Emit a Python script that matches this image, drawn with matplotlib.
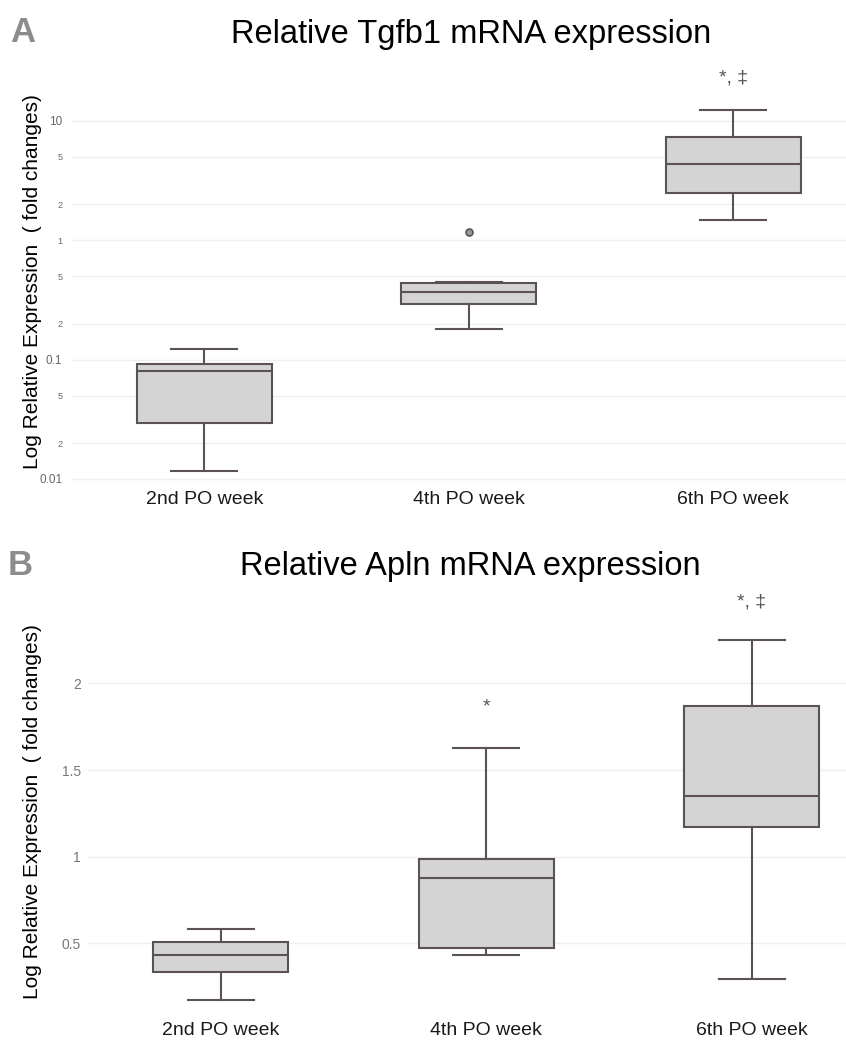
import matplotlib
matplotlib.use('Agg')
import matplotlib.pyplot as plt
from matplotlib.ticker import NullLocator
from matplotlib.transforms import ScaledTranslation

plt.rcParams['font.family'] = ['Liberation Sans', 'DejaVu Sans']

weeks = ['2nd PO week', '4th PO week', '6th PO week']

# panel A - Tgfb1, log scale
tgfb1_whislo = [0.0117, 0.180, 1.48]
tgfb1_q1 = [0.0296, 0.294, 2.48]
tgfb1_med = [0.0803, 0.369, 4.33]
tgfb1_q3 = [0.0914, 0.436, 7.38]
tgfb1_whishi = [0.122, 0.443, 12.3]
tgfb1_fliers = [[], [1.167], []]
tgfb1_marks = ['', '', '*, ‡']
tgfb1_mark_y = [None, None, 22.9]
tgfb1_ticks = [0.01, 0.02, 0.05, 0.1, 0.2, 0.5, 1, 2, 5, 10]
tgfb1_ticklabels = ['0.01', '2', '5', '0.1', '2', '5', '1', '2', '5', '10']

# panel B - Apln
apln_whislo = [0.174, 0.435, 0.295]
apln_q1 = [0.333, 0.473, 1.170]
apln_med = [0.433, 0.879, 1.350]
apln_q3 = [0.510, 0.985, 1.871]
apln_whishi = [0.585, 1.629, 2.250]
apln_fliers = [[], [], []]
apln_marks = ['', '*', '*, ‡']
apln_mark_y = [None, 1.865, 2.47]
apln_ticks = [0.5, 1, 1.5, 2]
apln_ticklabels = ['0.5', '1', '1.5', '2']

W, H = 846, 1042
fig = plt.figure(figsize=(W / 100, H / 100), dpi=100)
edge = '#5b5353'


def px_axes(left, top, right, bottom):
    return fig.add_axes([left / W, 1 - bottom / H, (right - left) / W, (bottom - top) / H])


def draw_boxes(ax, lo, q1, med, q3, hi, fliers):
    stats = []
    for i in range(len(weeks)):
        stats.append(dict(whislo=lo[i], q1=q1[i], med=med[i], q3=q3[i],
                          whishi=hi[i], fliers=fliers[i]))
    ax.bxp(stats, positions=range(len(weeks)), widths=0.51, capwidths=0.25,
           patch_artist=True, showfliers=True,
           boxprops=dict(facecolor='#d4d4d4', edgecolor=edge, linewidth=1.5),
           medianprops=dict(color=edge, linewidth=1.5),
           whiskerprops=dict(color=edge, linewidth=1.5),
           capprops=dict(color=edge, linewidth=1.5),
           flierprops=dict(marker='o', markersize=5, markerfacecolor='#9a9a9a',
                           markeredgecolor=edge, markeredgewidth=1.2))


def style(ax):
    for s in ax.spines.values():
        s.set_visible(False)
    ax.grid(axis='y', color='#efefef', lw=1)
    ax.set_axisbelow(True)
    ax.tick_params(length=0)
    ax.set_xticks(range(len(weeks)))
    ax.set_xticklabels(weeks, fontsize=14, color='#1a1a1a')
    # category labels sit a little right of the box centres
    shift = ScaledTranslation(7 / 100, 0, fig.dpi_scale_trans)
    for lab in ax.get_xticklabels():
        lab.set_transform(lab.get_transform() + shift)


# ---- A ----
axA = px_axes(72, 62, 846, 488)
draw_boxes(axA, tgfb1_whislo, tgfb1_q1, tgfb1_med, tgfb1_q3, tgfb1_whishi, tgfb1_fliers)
axA.set_yscale('log')
axA.set_xlim(-0.5, -0.5 + (846 - 72) / 264.5)
axA.set_ylim(10 ** ((240.3 - 488) / 119.33), 10 ** ((240.3 - 62) / 119.33))
style(axA)
axA.set_yticks(tgfb1_ticks)
axA.yaxis.set_minor_locator(NullLocator())
axA.set_yticklabels(tgfb1_ticklabels, color='#666666')
for lab in axA.get_yticklabels():
    lab.set_fontsize(8.5 if lab.get_text() in ('0.01', '0.1', '10') else 6.5)
axA.tick_params(axis='y', pad=7)
axA.tick_params(axis='x', pad=2)
for i, m in enumerate(tgfb1_marks):
    if m:
        axA.text(i, tgfb1_mark_y[i], m, ha='center', va='center', fontsize=14, color='#555555')

# ---- B ----
axB = px_axes(88, 590, 846, 1012)
draw_boxes(axB, apln_whislo, apln_q1, apln_med, apln_q3, apln_whishi, apln_fliers)
axB.set_xlim(-0.5, -0.5 + (846 - 88) / 265.5)
axB.set_ylim(1 + (856.7 - 1012) / 173.4, 1 + (856.7 - 590) / 173.4)
style(axB)
axB.set_yticks(apln_ticks)
axB.set_yticklabels(apln_ticklabels, fontsize=10, color='#777777')
axB.tick_params(axis='y', pad=5)
axB.tick_params(axis='x', pad=7)
for i, m in enumerate(apln_marks):
    if m:
        axB.text(i, apln_mark_y[i], m, ha='center', va='center', fontsize=14, color='#555555')

# titles, panel letters, y labels
fig.text(471 / W, 1 - 43 / H, 'Relative Tgfb1 mRNA expression', ha='center', va='baseline', fontsize=23.5)
fig.text(470 / W, 1 - 575 / H, 'Relative Apln mRNA expression', ha='center', va='baseline', fontsize=23.5)
fig.text(10 / W, 1 - 42 / H, 'A', fontsize=25, fontweight='bold', color='#8c8c8c', va='baseline')
fig.text(8 / W, 1 - 575 / H, 'B', fontsize=25, fontweight='bold', color='#8c8c8c', va='baseline')
ylab = 'Log Relative Expression  ( fold changes)'
fig.text(33 / W, 1 - 282 / H, ylab, rotation=90, ha='center', va='center', fontsize=15)
fig.text(33 / W, 1 - 812 / H, ylab, rotation=90, ha='center', va='center', fontsize=15)

fig.savefig('out.png', dpi=100)
